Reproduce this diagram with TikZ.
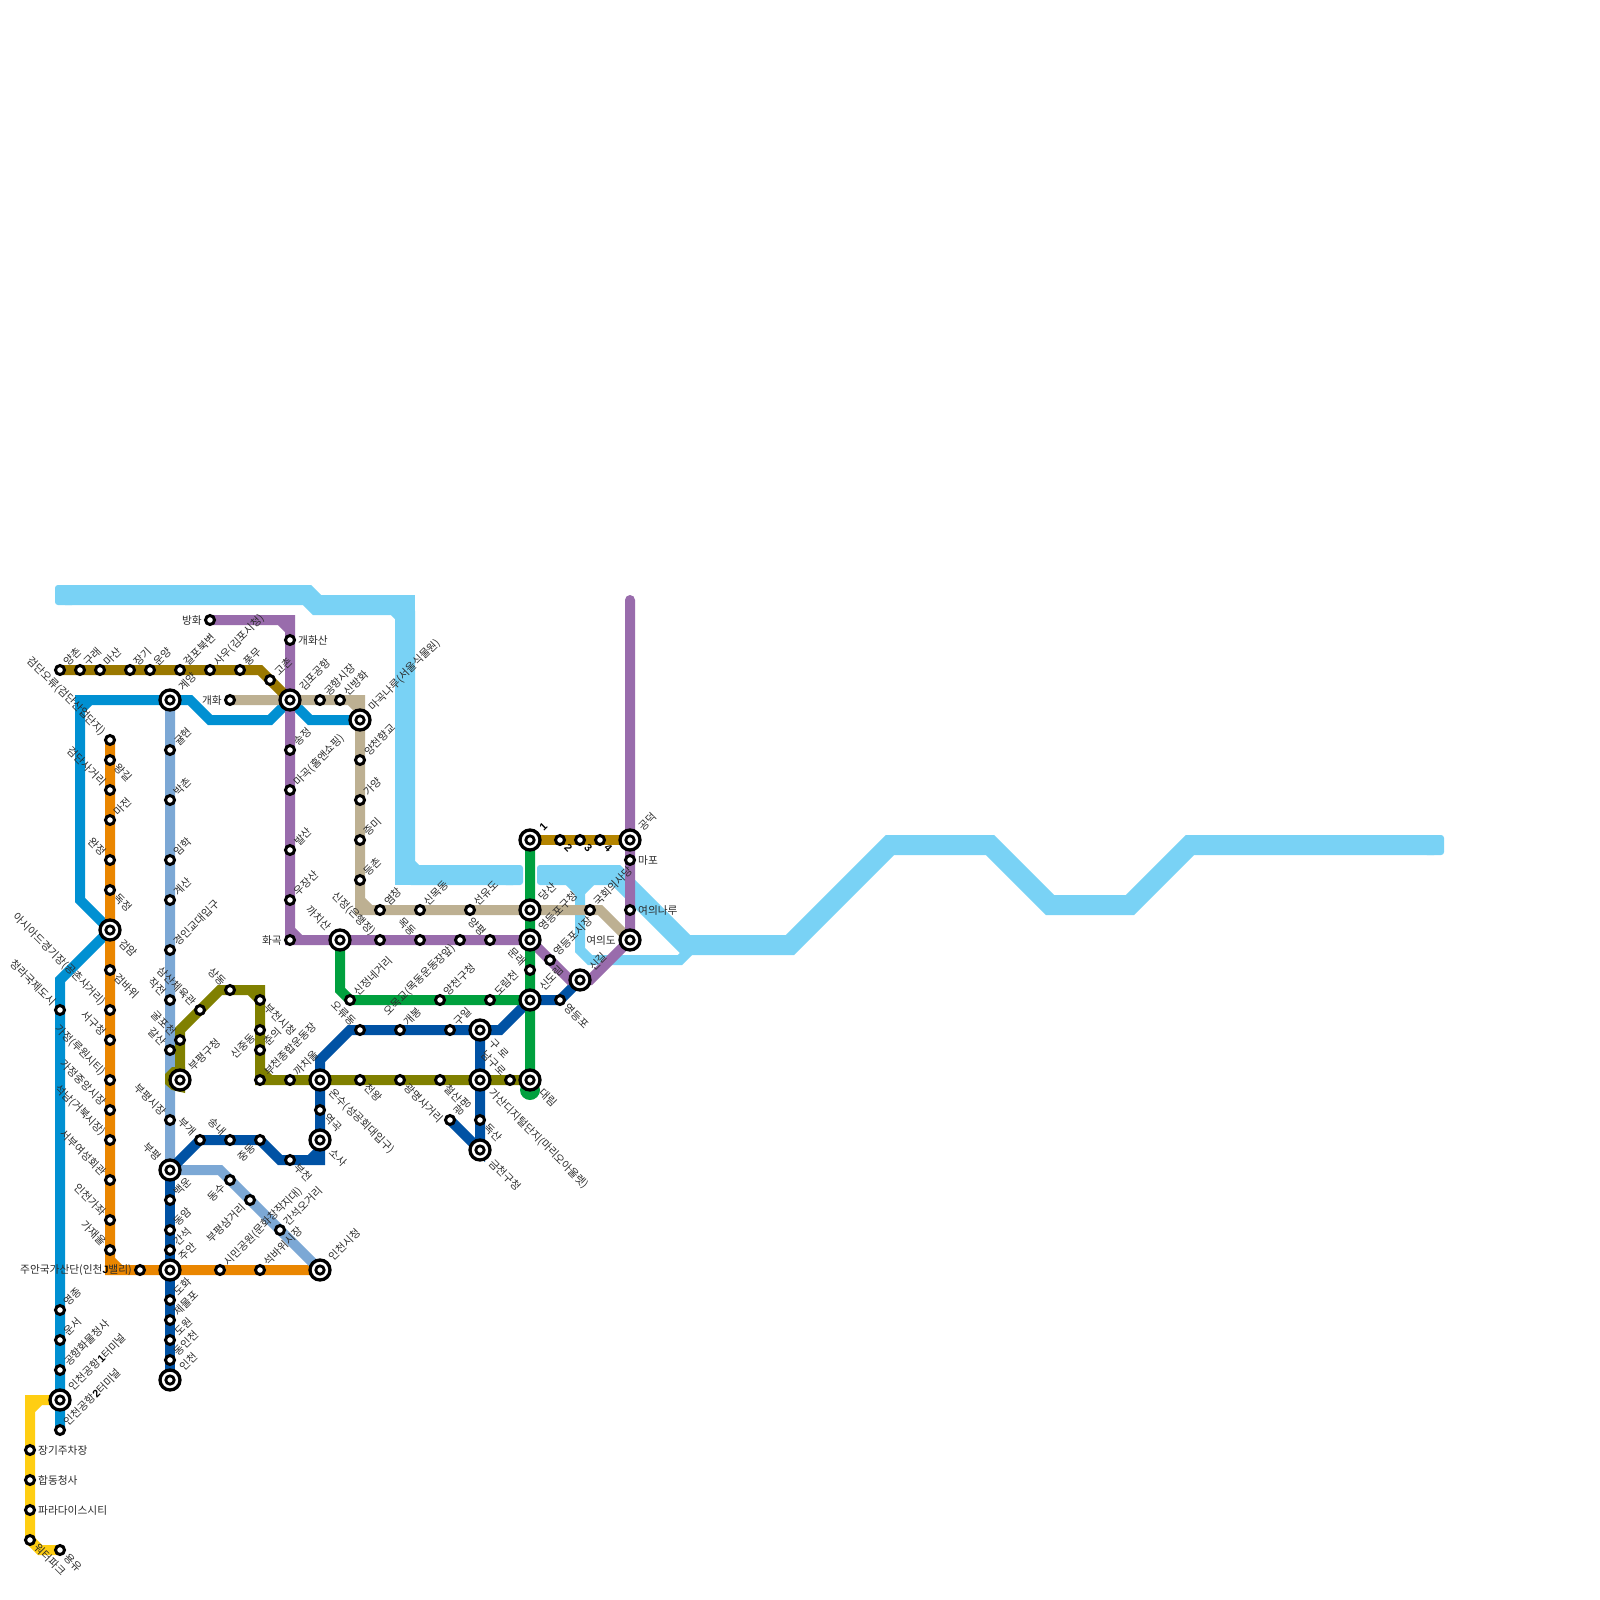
\documentclass[tikz,border=0pt]{standalone}
\usepackage{fontspec}
\setmainfont{Noto Sans CJK KR}
\newfontfamily\dgfont{Liberation Sans}
\newcommand\dg[1]{{\dgfont\bfseries\color{black}#1}}
\pgfdeclarelayer{back}
\pgfsetlayers{back,main}
\definecolor{river}{HTML}{79D2F5}
\definecolor{arex}{HTML}{0090D2}
\definecolor{lorange}{HTML}{EA8600}
\definecolor{lsteel}{HTML}{7CA8D5}
\definecolor{ldark}{HTML}{0052A4}
\definecolor{lgreen}{HTML}{00A03E}
\definecolor{lpurple}{HTML}{996CAC}
\definecolor{lgimpo}{HTML}{9A7800}
\definecolor{ltan}{HTML}{BDB092}
\definecolor{lolive}{HTML}{808000}
\definecolor{lyellow}{HTML}{FFCE12}
\definecolor{lgold}{HTML}{B58500}
\definecolor{ltext}{HTML}{2B2B2B}
\def\oNE{6,-6}\def\oSE{6,6}\def\oNW{-6,-6}\def\oSW{-6,6}\def\oE{8,0}\def\oW{-8,0}
\def\xNE{11,-11}\def\xSE{11,11}\def\xNW{-11,-11}\def\xSW{-11,11}\def\xE{14,0}\def\xW{-14,0}
\tikzset{
 x=1pt,y=-1pt,
 stn/.style={circle,draw=black,fill=white,line width=3pt,minimum size=9pt,inner sep=0pt},
 xfer/.style={circle,draw=black,fill=white,line width=3.3pt,minimum size=20pt,inner sep=0pt,
   path picture={\draw[black,line width=2.8pt] (path picture bounding box.center) circle[radius=4.2pt];}},
 lab/.style={font=\fontsize{10.7pt}{11pt}\selectfont,text=ltext,inner sep=0pt},
 lNE/.style={rotate=45,anchor=west},
 lSE/.style={rotate=-45,anchor=west},
 lNW/.style={rotate=-45,anchor=east},
 lSW/.style={rotate=45,anchor=east},
 lE/.style={anchor=west},
 lW/.style={anchor=east},
 ln/.style={line width=10pt,line join=miter,line cap=round},
 riv/.style={line width=20pt,line join=miter,line cap=butt,river},
 rivend/.style={river,rounded corners=3pt},
}
\newcommand\st[5]{\node[stn] (#1) at (#2,#3) {};\node[lab,l#4] (#1l) at ([shift={(\csname o#4\endcsname)}]#1.center) {#5};}
\newcommand\xs[5]{\node[xfer] (#1) at (#2,#3) {};\node[lab,l#4] (#1l) at ([shift={(\csname x#4\endcsname)}]#1.center) {#5};}
\begin{document}
\begin{tikzpicture}
\useasboundingbox (0,0) rectangle (1600,1600);
% interchanges
\xs{gyeyang}{170}{700}{NE}{계양}
\xs{gimpo}{290}{700}{NE}{김포공항}
\xs{magoknaru}{360}{720}{NE}{마곡나루(서울식물원)}
\xs{geomam}{110}{930}{SE}{검암}
\xs{kkachisan}{340}{940}{NW}{까치산}
\xs{bupyeonggu}{180}{1080}{NE}{부평구청}
\xs{bupyeong}{170}{1170}{NW}{부평}
\xs{juan}{170}{1270}{NE}{주안}
\xs{incheon}{170}{1380}{NE}{인천}
\xs{sicheong}{320}{1270}{NE}{인천시청}
\xs{onsu}{320}{1080}{SE}{온수(성공회대입구)}
\xs{sosa}{320}{1140}{SE}{소사}
\xs{guro}{480}{1030}{SE}{구 로}
\xs{gasan}{480}{1080}{SE}{가산디지털단지(마리오아울렛)}
\xs{geumcheon}{480}{1150}{SE}{금천구청}
\xs{sindorim}{530}{1000}{NE}{신도림}
\xs{daerim}{530}{1080}{SE}{대림}
\xs{singil}{580}{980}{NE}{신길}
\xs{ydpgu}{530}{940}{NE}{영등포구청}
\xs{dangsan}{530}{910}{NE}{당산}
\xs{one}{530}{840}{NE}{\dg{1}}
\xs{gongdeok}{630}{840}{NE}{공덕}
\xs{yeouido}{630}{940}{W}{여의도}
\xs{t1}{60}{1400}{NE}{인천공항\dg{1}터미널}
% gimpo gold line
\st{yangchon}{60}{670}{NE}{양촌}
\st{gurae}{80}{670}{NE}{구래}
\st{masan}{100}{670}{NE}{마산}
\st{janggi}{130}{670}{NE}{장기}
\st{unyang}{150}{670}{NE}{운양}
\st{geolpo}{180}{670}{NE}{걸포북변}
\st{sau}{210}{670}{NE}{사우(김포시청)}
\st{pungmu}{240}{670}{NE}{풍무}
\st{gochon}{270}{680}{NE}{고촌}
% orange
\st{oryu}{110}{740}{NW}{검단오류(검단산업단지)}
\st{wanggil}{110}{760}{SE}{왕길}
\st{dansa}{110}{790}{NW}{검단사거리}
\st{majeon}{110}{820}{NE}{마전}
\st{wanjeong}{110}{860}{NW}{완정}
\st{dokjeong}{110}{890}{SE}{독정}
\st{geombawi}{110}{970}{SE}{검바위}
\st{asiad}{110}{1010}{NW}{아시아드경기장(공촌사거리)}
\st{seogu}{110}{1040}{NW}{서구청}
\st{gajeong}{110}{1080}{NW}{가정(루원시티)}
\st{gajung}{110}{1110}{NW}{가정중앙시장}
\st{seoknam}{110}{1140}{NW}{석남(거북시장)}
\st{seobu}{110}{1180}{NW}{서부여성회관}
\st{gajwa}{110}{1220}{NW}{인천가좌}
\st{gajaeul}{110}{1250}{NW}{가재울}
\st{jugan}{140}{1270}{W}{주안국가산단(인천\dg{J}밸리)}
\st{simin}{220}{1270}{NE}{시민공원(문화창작지대)}
\st{seokbawi}{260}{1270}{NE}{석바위시장}
% steel
\st{gyulhyeon}{170}{750}{NE}{귤현}
\st{bakchon}{170}{800}{NE}{박촌}
\st{imhak}{170}{860}{NE}{임학}
\st{gyesan}{170}{900}{NE}{계산}
\st{gyodae}{170}{950}{NE}{경인교대입구}
\st{jakjeon}{170}{1000}{NW}{작전}
\st{galsan}{170}{1050}{NW}{갈산}
\st{bpsijang}{170}{1120}{NW}{부평시장}
\st{dongsu}{230}{1180}{SW}{동수}
\st{bpsamgeori}{250}{1200}{SW}{부평삼거리}
\st{ganseogo}{280}{1230}{NE}{간석오거리}
% dark blue
\st{baegun}{170}{1200}{NE}{백운}
\st{dongam}{170}{1230}{NE}{동암}
\st{ganseok}{170}{1250}{NE}{간석}
\st{dohwa}{170}{1300}{NE}{도화}
\st{jemulpo}{170}{1320}{NE}{제물포}
\st{dowon}{170}{1340}{NE}{도원}
\st{dongin}{170}{1360}{NE}{동인천}
\st{bugae}{200}{1140}{NW}{부개}
\st{songnae}{230}{1140}{NW}{송내}
\st{jungdong}{260}{1140}{SW}{중동}
\st{bucheon}{290}{1160}{SE}{부천}
\st{yeokgok}{320}{1110}{SE}{역곡}
\st{oryudong}{360}{1030}{NW}{오류동}
\st{gaebong}{400}{1030}{NE}{개봉}
\st{guil}{450}{1030}{NE}{구일}
\st{doksan}{480}{1120}{SE}{독산}
\st{gwangmyeong}{450}{1120}{NE}{광명}
\st{ydp}{560}{1000}{SE}{영등포}
% olive
\st{sangdong}{230}{990}{NW}{상동}
\st{samsan}{200}{1010}{NW}{삼산체육관}
\st{gulpo}{180}{1040}{NW}{굴포천}
\st{bcsicheong}{260}{1000}{SE}{부천시청}
\st{sinjung}{260}{1030}{SW}{신중동}
\st{chunui}{260}{1050}{NE}{춘의}
\st{bcstadium}{260}{1080}{NE}{부천종합운동장}
\st{kkachiul}{290}{1080}{NE}{까치울}
\st{cheonwang}{360}{1080}{SE}{천왕}
\st{gmsageori}{400}{1080}{SE}{광명사거리}
\st{cheolsan}{440}{1080}{SE}{철산}
\st{namguro}{510}{1080}{NW}{남구로}
% green
\st{sinjeongne}{350}{1000}{NE}{신정네거리}
\st{yangcheongu}{440}{1000}{NE}{양천구청}
\st{dorimcheon}{490}{1000}{NE}{도림천}
\st{mullae}{530}{970}{NW}{문래}
% purple
\st{banghwa}{210}{620}{W}{방화}
\st{gaehwasan}{290}{640}{E}{개화산}
\st{songjeong}{290}{750}{NE}{송정}
\st{magok}{290}{790}{NE}{마곡(홈앤쇼핑)}
\st{balsan}{290}{850}{NE}{발산}
\st{ujangsan}{290}{900}{NE}{우장산}
\st{hwagok}{290}{940}{W}{화곡}
\st{sinjeong}{380}{940}{NW}{신정(은행정)}
\st{mokdong}{420}{940}{NW}{목동}
\st{omokgyo}{460}{940}{SW}{오목교(목동운동장앞)}
\st{yangpyeong}{490}{940}{NW}{양평}
\st{ydpsijang}{550}{960}{NE}{영등포시장}
\st{yeouinaru}{630}{910}{E}{여의나루}
\st{mapo}{630}{860}{E}{마포}
% tan
\st{gaehwa}{230}{700}{W}{개화}
\st{gonghang}{320}{700}{NE}{공항시장}
\st{sinbanghwa}{340}{700}{NE}{신방화}
\st{yangcheon}{360}{760}{NE}{양천향교}
\st{gayang}{360}{800}{NE}{가양}
\st{jeungmi}{360}{840}{NE}{증미}
\st{deungchon}{360}{880}{NE}{등촌}
\st{yeomchang}{380}{910}{NE}{염창}
\st{sinmok}{420}{910}{NE}{신목동}
\st{seonyu}{470}{910}{NE}{선유도}
\st{gukhoe}{590}{910}{NE}{국회의사당}
% gold
\st{two}{560}{840}{SE}{\dg{2}}
\st{three}{580}{840}{SE}{\dg{3}}
\st{four}{600}{840}{SE}{\dg{4}}
% arex / yellow
\st{cheongna}{60}{1010}{NW}{청라국제도시}
\st{yeongjong}{60}{1310}{NE}{영종}
\st{unseo}{60}{1340}{NE}{운서}
\st{hwamul}{60}{1370}{NE}{공항화물청사}
\st{t2}{60}{1430}{NE}{인천공항\dg{2}터미널}
\st{jangi}{30}{1450}{E}{장기주차장}
\st{hapdong}{30}{1480}{E}{합동청사}
\st{paradise}{30}{1510}{E}{파라다이스시티}
\st{waterpark}{30}{1540}{SE}{워터파크}
\st{yongyu}{60}{1550}{SE}{용유}
\begin{pgfonlayer}{back}
\fill[white] (0,0) rectangle (1600,1600);
% river
\draw[riv] (65,595)--(307,595)--(317,605)--(395,605)--(405,615)--(405,865)--(415,875)--(513,875);
\draw[riv] (405,850)--(405,875)--(420,875) (385,605)--(405,605)--(405,625);
\draw[riv] (547,875)--(616,875)--(686,945)--(790,945)--(890,845)--(990,845)--(1050,905)--(1130,905)--(1190,845)--(1434,845);
\fill[rivend] (55,585) rectangle (75,605);
\fill[rivend] (503,865) rectangle (523,885);
\fill[rivend] (537,865) rectangle (557,885);
\fill[rivend] (1424,835) rectangle (1444,855);
\draw[river,line width=10pt,line join=miter] (580,875)--(580,950)--(590,960)--(680,960)--(700,940);
\fill[river] (565,884)--(595,884)--(585,894)--(575,894)--cycle;
% lines
\draw[ln,lyellow] (t1.center)--(30,1400)--(waterpark.center)--(40,1550)--(yongyu.center) (30,1410)--(40,1400);
\draw[ln,arex] (t2.center)--(t1.center)--(cheongna.center)--(60,980)--(geomam.center)--(80,900)--(80,700)--(gyeyang.center)--(190,700)--(210,720)--(270,720)--(gimpo.center)--(310,720)--(magoknaru.center) (80,710)--(90,700);
\draw[ln,lorange] (oryu.center)--(gajaeul.center)--(110,1270)--(sicheong.center) (110,1260)--(120,1270);
\draw[ln,lsteel] (gyeyang.center)--(bupyeong.center)--(220,1170)--(sicheong.center);
\draw[ln,ldark] (bupyeong.center)--(incheon.center);
\draw[ln,ldark] (bupyeong.center)--(bugae.center)--(jungdong.center)--(280,1160)--(320,1160)--(onsu.center)--(320,1060)--(350,1030)--(guro.center)--(500,1030)--(sindorim.center)--(ydp.center)--(singil.center) (310,1160)--(320,1150);
\draw[ln,ldark] (guro.center)--(geumcheon.center)--(gwangmyeong.center);
\fill[lolive] (165,1074)--(172,1067)--(185,1067)--(185,1093)--(172,1090)--(165,1084)--cycle;
\draw[ln,lolive] (bupyeonggu.center)--(180,1030)--(220,990)--(260,990)--(260,1080)--(daerim.center) (250,990)--(260,1000) (260,1070)--(270,1080);
\draw[ln,ltan] (gaehwa.center)--(gimpo.center)--(360,700)--(360,910)--(gukhoe.center)--(600,910)--(yeouido.center) (350,700)--(360,710) (360,900)--(370,910);
\draw[ln,lpurple] (banghwa.center)--(290,620)--(290,940)--(ydpgu.center)--(570,980)--(590,980)--(yeouido.center)--(630,600) (280,620)--(290,630) (290,930)--(300,940);
\draw[ln,lgimpo] (yangchon.center)--(260,670)--(gimpo.center);
\draw[ln,lgold] (one.center)--(gongdeok.center);
\draw[ln,lgreen] (one.center)--(daerim.center) (kkachisan.center)--(340,990)--(sinjeongne.center)--(sindorim.center);
\fill[lgreen] (530,1090) circle[radius=10pt];
\end{pgfonlayer}
\end{tikzpicture}
\end{document}
